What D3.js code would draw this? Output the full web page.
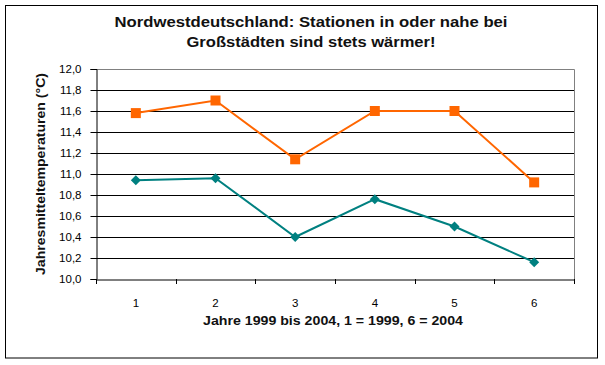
<!DOCTYPE html>
<html><head><meta charset="utf-8">
<script src="https://cdn.jsdelivr.net/npm/d3@7"></script>
<style>body{margin:0;background:#fff}svg{display:block}text{font-family:"Liberation Sans",Arial,sans-serif}</style>
</head><body><svg id="c" width="605" height="365"></svg>
<script>
const categories = ["1","2","3","4","5","6"];
const cityValues = [11.58, 11.70, 11.14, 11.60, 11.60, 10.92];
const ruralValues = [10.94, 10.96, 10.40, 10.76, 10.50, 10.16];
const yTicks = [10.0,10.2,10.4,10.6,10.8,11.0,11.2,11.4,11.6,11.8,12.0];
const titleLines = ["Nordwestdeutschland: Stationen in oder nahe bei","Großstädten sind stets wärmer!"];
const yTitle = "Jahresmitteltemperaturen (°C)";
const xTitle = "Jahre 1999 bis 2004, 1 = 1999, 6 = 2004";

const svg = d3.select("#c");
svg.append("rect").attr("x",5.5).attr("y",5.5).attr("width",592).attr("height",352.5).attr("fill","#fff").attr("stroke","#000").attr("stroke-width",1);

const L=96, R=574, T=69, B=279;
const x = d3.scaleBand().domain(categories).range([L,R]);
const y = d3.scaleLinear().domain([10,12]).range([B,T]);

// gridlines
svg.append("g").selectAll("line").data(yTicks.filter(v=>v>10 && v<12)).join("line")
  .attr("x1",L).attr("x2",R).attr("y1",d=>Math.round(y(d))+0.5).attr("y2",d=>Math.round(y(d))+0.5)
  .attr("stroke","#000").attr("stroke-width",1);
// plot frame top/right gray
svg.append("path").attr("d",`M${L},${T+0.5}H${R+0.5}V${B}`).attr("fill","none").attr("stroke","#808080");

// y axis
const ya = svg.append("g").attr("transform",`translate(${L+0.5},0)`)
  .call(d3.axisLeft(y).tickValues(yTicks).tickSize(6).tickFormat(d=>d3.format(".1f")(d).replace(".",",")));
ya.select(".domain").attr("stroke","#000");
ya.selectAll(".tick line").attr("stroke","#000");
ya.selectAll(".tick text").attr("font-size",11.5).attr("fill","#000").attr("x",-15).attr("font-family","Liberation Sans, Arial, sans-serif");

// x axis
const xa = svg.append("g").attr("transform",`translate(0,${B+0.5})`)
  .call(d3.axisBottom(x).tickSize(0).tickFormat(d=>d));
xa.select(".domain").attr("stroke","#000");
xa.selectAll(".tick text").attr("font-size",11.5).attr("fill","#000").attr("dy","0").attr("y",27).attr("font-family","Liberation Sans, Arial, sans-serif");
// band-boundary ticks
const bounds = categories.map(c=>x(c)).concat([R]);
svg.append("g").selectAll("line").data(bounds).join("line")
  .attr("x1",d=>Math.round(d)+0.5).attr("x2",d=>Math.round(d)+0.5).attr("y1",B).attr("y2",B+5).attr("stroke","#000");

const cx = d=>x(d)+x.bandwidth()/2;
const line = d3.line();
function series(vals,color){
  svg.append("path").attr("d",line(vals.map((v,i)=>[cx(categories[i]),y(v)])))
    .attr("fill","none").attr("stroke",color).attr("stroke-width",2);
}
series(cityValues,"#FF6600");
series(ruralValues,"#008080");
svg.append("g").selectAll("rect").data(cityValues).join("rect")
  .attr("x",(d,i)=>cx(categories[i])-5).attr("y",d=>y(d)-5).attr("width",10).attr("height",10).attr("fill","#FF6600");
svg.append("g").selectAll("path").data(ruralValues).join("path")
  .attr("d",d3.symbol().type(d3.symbolSquare).size(50))
  .attr("transform",(d,i)=>`translate(${cx(categories[i])},${y(d)}) rotate(45)`).attr("fill","#008080");

// titles
const titleLens=[393,249];
svg.append("g").selectAll("text").data(titleLines).join("text")
  .attr("x",311).attr("y",(d,i)=>27+i*20).attr("text-anchor","middle").attr("font-size",15).attr("font-weight","bold")
  .attr("textLength",(d,i)=>titleLens[i]).attr("lengthAdjust","spacingAndGlyphs").attr("fill","#111").text(d=>d);
svg.append("text").attr("transform",`translate(45,174) rotate(-90)`).attr("text-anchor","middle")
  .attr("font-size",13).attr("font-weight","bold").attr("textLength",202).attr("lengthAdjust","spacingAndGlyphs").attr("fill","#111").text(yTitle);
svg.append("text").attr("x",333).attr("y",325).attr("text-anchor","middle").attr("font-size",13).attr("font-weight","bold")
  .attr("textLength",260).attr("lengthAdjust","spacingAndGlyphs").attr("fill","#111").text(xTitle);
</script></body></html>
